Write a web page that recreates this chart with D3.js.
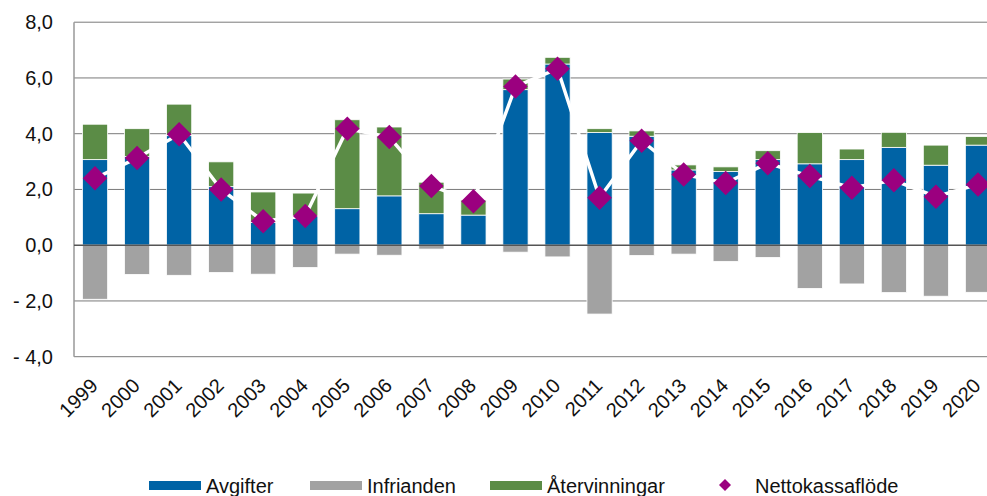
<!DOCTYPE html>
<html>
<head>
<meta charset="utf-8">
<script src="https://cdn.jsdelivr.net/npm/d3@7"></script>
<style>
  body { margin: 0; background: #fff; }
  svg { display: block; font-family: "Liberation Sans", Arial, sans-serif; }
</style>
</head>
<body>
<svg id="chart" width="987" height="496"></svg>
<script>
const years = ['1999', '2000', '2001', '2002', '2003', '2004', '2005', '2006', '2007', '2008', '2009',
  '2010', '2011', '2012', '2013', '2014', '2015', '2016', '2017', '2018', '2019', '2020'];
const avgifter = [3.07, 3.18, 3.93, 2.10, 0.82, 1.05, 1.31, 1.77, 1.13, 1.08, 5.58,
  6.50, 4.04, 3.91, 2.70, 2.64, 3.07, 2.92, 3.07, 3.51, 2.87, 3.59];
const infrianden = [-1.94, -1.05, -1.08, -0.98, -1.04, -0.80, -0.32, -0.36, -0.14, -0.03, -0.25,
  -0.42, -2.47, -0.37, -0.32, -0.58, -0.44, -1.55, -1.39, -1.70, -1.83, -1.69];
const atervinningar = [1.27, 1.00, 1.13, 0.89, 1.09, 0.82, 3.19, 2.47, 1.13, 0.54, 0.38,
  0.24, 0.14, 0.19, 0.18, 0.17, 0.32, 1.12, 0.38, 0.54, 0.72, 0.31];
const netto = [2.40, 3.13, 3.98, 2.00, 0.86, 1.05, 4.18, 3.88, 2.12, 1.58, 5.69,
  6.33, 1.70, 3.75, 2.54, 2.23, 2.94, 2.48, 2.06, 2.33, 1.74, 2.18];
const yTicks = [-4, -2, 0, 2, 4, 6, 8];
const seriesNames = ['Avgifter', 'Infrianden', 'Återvinningar'];
const lineName = 'Nettokassaflöde';

const colors = { Avgifter: '#0063a5', Infrianden: '#a2a2a2', 'Återvinningar': '#5b8c46' };
const purple = '#9b007f';

const svg = d3.select('#chart');
const plotLeft = 74, plotRight = 999, plotTop = 22.2, plotBottom = 356.7;

const x = d3.scaleBand().domain(years).range([plotLeft, plotRight]).paddingInner(0.4).paddingOuter(0.2);
const y = d3.scaleLinear().domain([-4, 8]).range([plotBottom, plotTop]);

const rows = years.map((yr, i) => ({
  year: yr, Avgifter: avgifter[i], Infrianden: infrianden[i], 'Återvinningar': atervinningar[i]
}));
const stacked = d3.stack().keys(seriesNames).offset(d3.stackOffsetDiverging)(rows);

// grid
svg.append('g')
  .selectAll('line')
  .data(yTicks.filter(t => t !== 0))
  .join('line')
  .attr('x1', plotLeft).attr('x2', 987)
  .attr('y1', d => y(d)).attr('y2', d => y(d))
  .attr('stroke', '#7a7a7a').attr('stroke-width', 1);

svg.append('line')
  .attr('x1', plotLeft).attr('x2', plotLeft).attr('y1', plotTop).attr('y2', plotBottom)
  .attr('stroke', '#999').attr('stroke-width', 1.5);

// y labels
const yAxis = d3.axisLeft(y).tickValues(yTicks).tickSize(0).tickPadding(21)
  .tickFormat(d => (d < 0 ? '- ' : '') + d3.format('.1f')(Math.abs(d)).replace('.', ','));
svg.append('g')
  .attr('transform', `translate(${plotLeft},0)`)
  .call(yAxis)
  .call(g => g.select('.domain').remove())
  .call(g => g.selectAll('text').attr('font-size', 20).attr('fill', '#111')
    .attr('font-family', '"Liberation Sans", Arial, sans-serif'));

// bars
svg.append('g')
  .selectAll('g')
  .data(stacked)
  .join('g')
  .attr('fill', d => colors[d.key])
  .selectAll('rect')
  .data(d => d)
  .join('rect')
  .attr('x', d => x(d.data.year))
  .attr('width', x.bandwidth())
  .attr('y', d => y(Math.max(d[0], d[1])))
  .attr('height', d => Math.abs(y(d[0]) - y(d[1])))
  .attr('stroke', '#fff').attr('stroke-width', 0.8);

// zero line
svg.append('line')
  .attr('x1', plotLeft).attr('x2', 987).attr('y1', y(0)).attr('y2', y(0))
  .attr('stroke', '#555').attr('stroke-width', 1.5);

// net line + diamonds
const pts = years.map((yr, i) => [x(yr) + x.bandwidth() / 2, y(netto[i])]);
svg.append('path')
  .attr('d', d3.line()(pts))
  .attr('fill', 'none').attr('stroke', '#fff').attr('stroke-width', 3.5);

const diamond = d3.symbol().type(d3.symbolSquare).size(300);
svg.append('g')
  .selectAll('path')
  .data(pts)
  .join('path')
  .attr('d', diamond)
  .attr('transform', d => `translate(${d[0]},${d[1]}) rotate(45)`)
  .attr('fill', purple);

// x labels
svg.append('g')
  .selectAll('text')
  .data(years)
  .join('text')
  .attr('transform', d => `translate(${x(d) + x.bandwidth() / 2 + 4},387) rotate(-45)`)
  .attr('text-anchor', 'end')
  .attr('font-size', 20)
  .attr('fill', '#111')
  .text(d => d);

// legend
const legend = svg.append('g');
const legendItems = [
  { name: 'Avgifter', x: 149 },
  { name: 'Infrianden', x: 310 },
  { name: 'Återvinningar', x: 490 }
];
legendItems.forEach(it => {
  legend.append('rect').attr('x', it.x).attr('y', 481).attr('width', 52).attr('height', 9)
    .attr('fill', colors[it.name]);
  legend.append('text').attr('x', it.x + 57).attr('y', 493).attr('font-size', 20)
    .attr('fill', '#111').text(it.name);
});
legend.append('path')
  .attr('d', d3.symbol().type(d3.symbolSquare).size(72))
  .attr('transform', 'translate(725,485) rotate(45)')
  .attr('fill', purple);
legend.append('text').attr('x', 755).attr('y', 493).attr('font-size', 20)
  .attr('fill', '#111').text(lineName);
</script>
</body>
</html>
